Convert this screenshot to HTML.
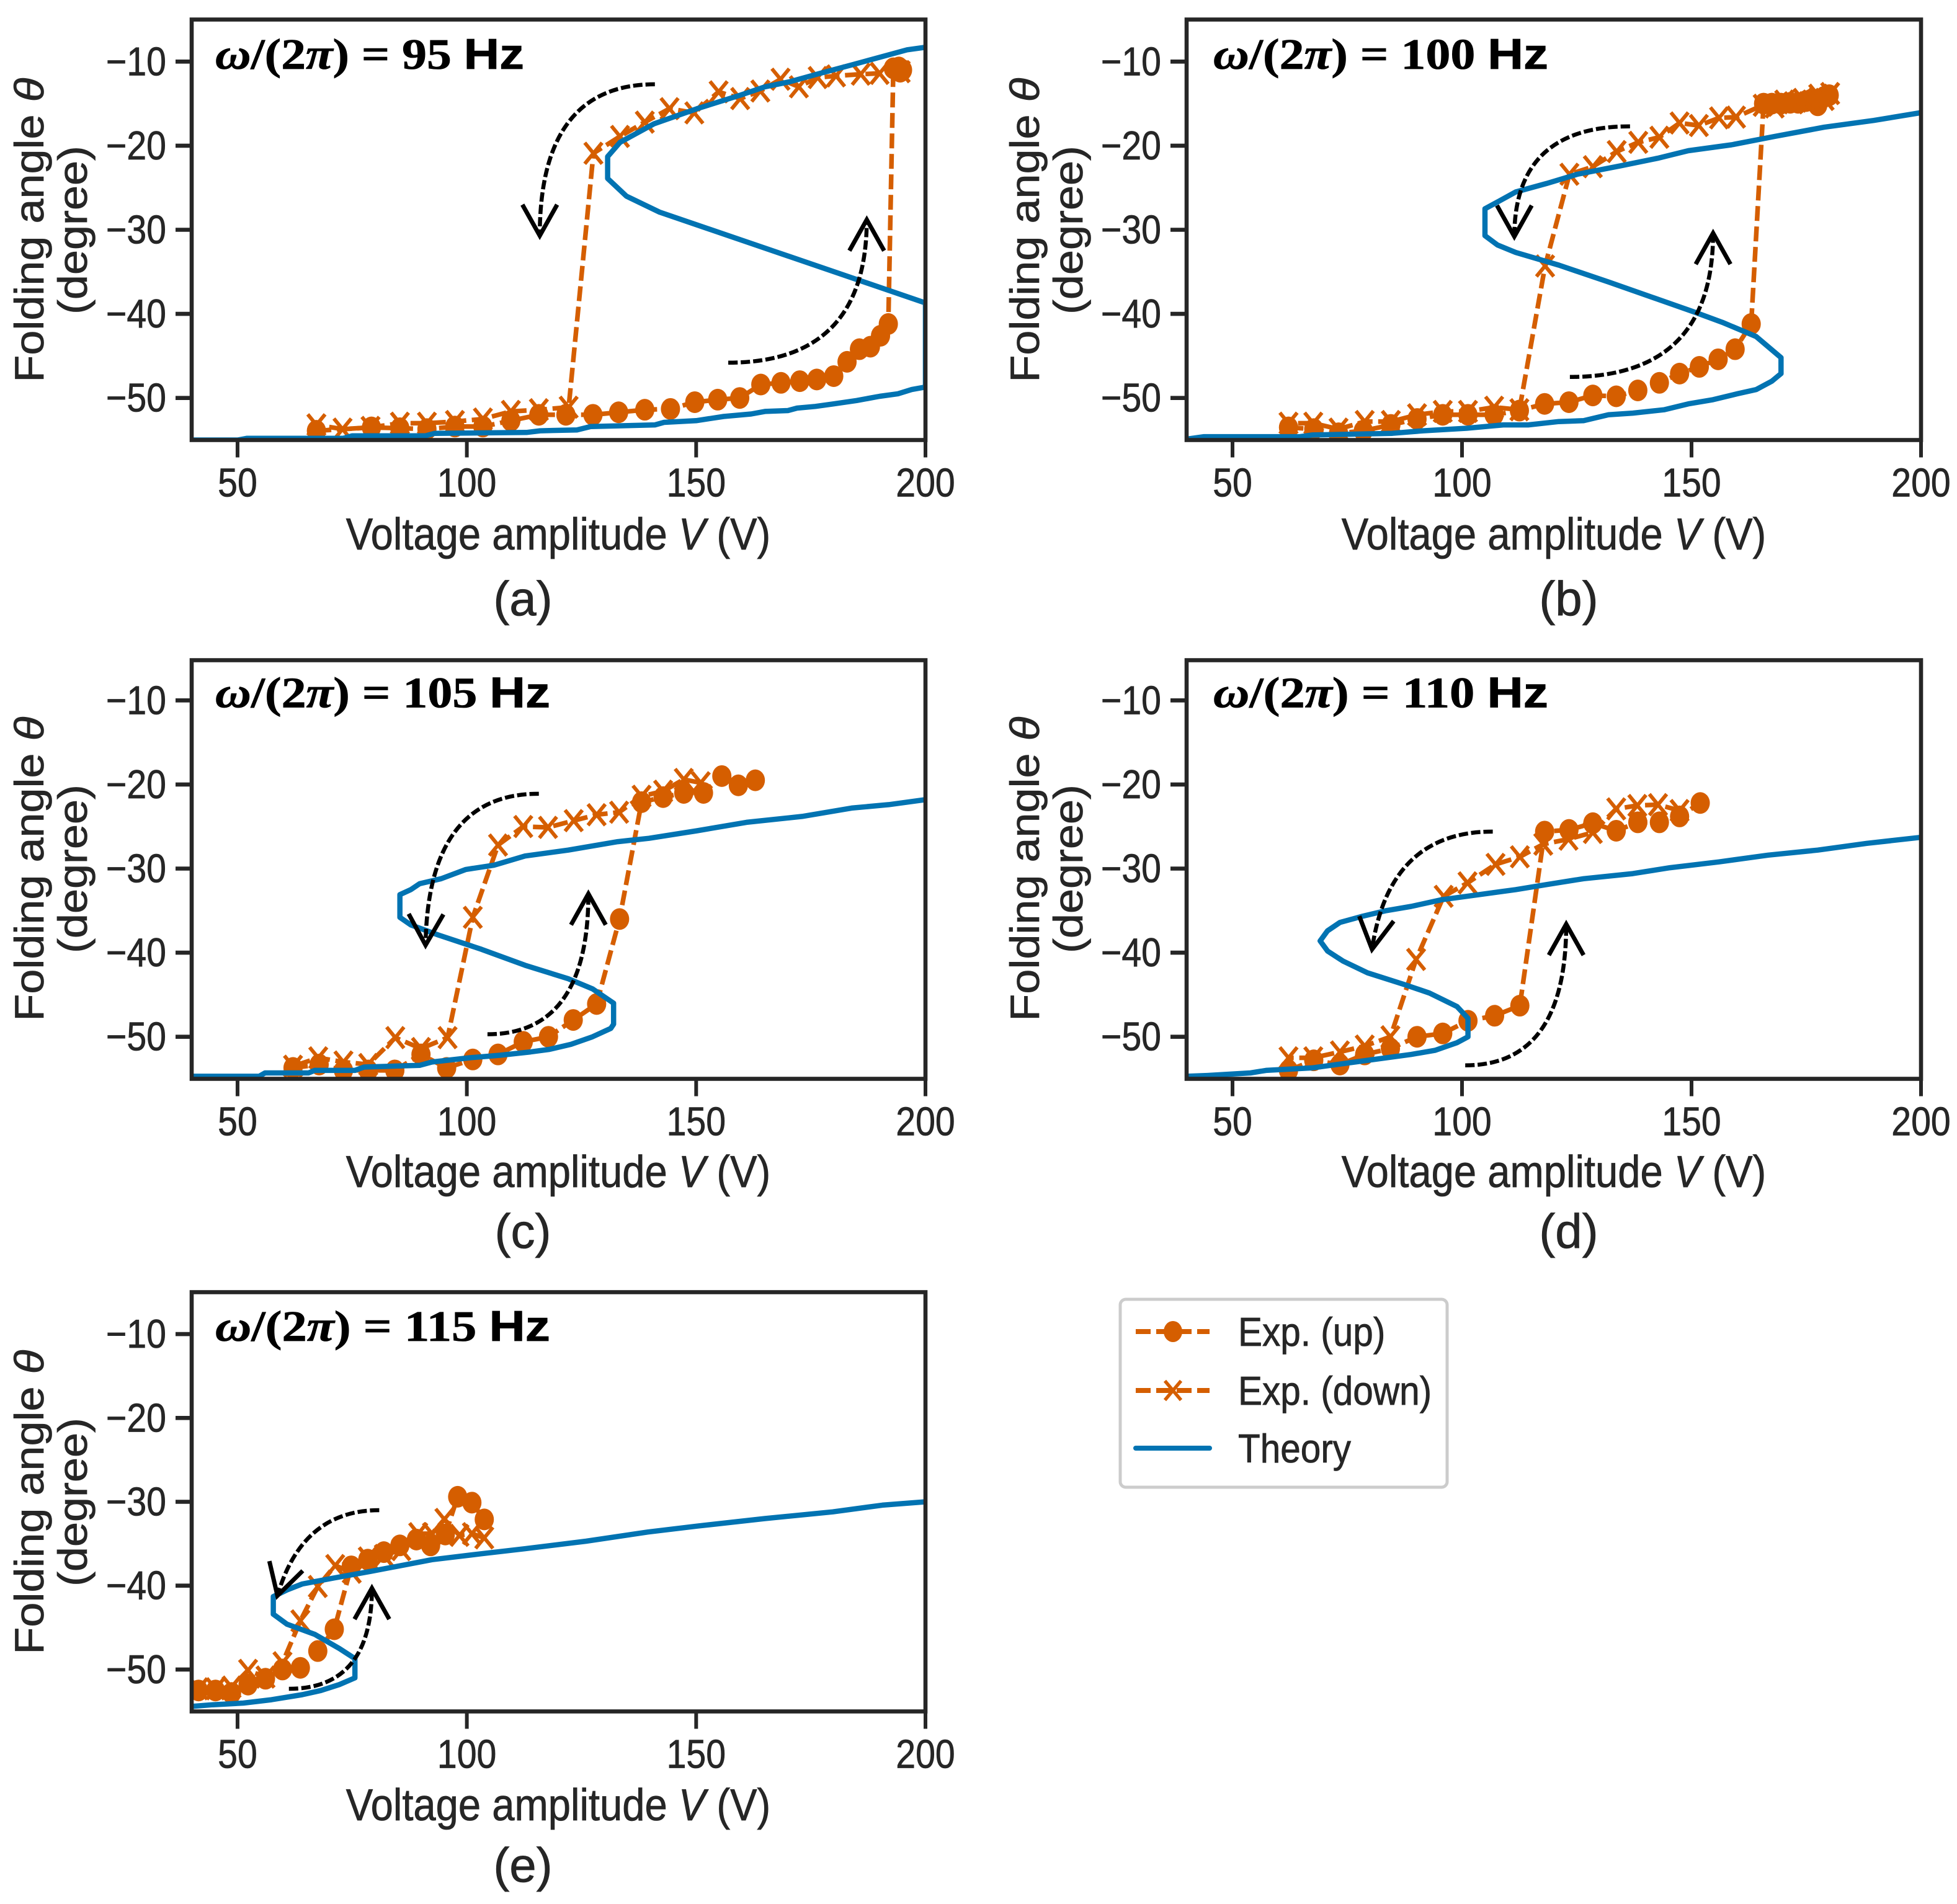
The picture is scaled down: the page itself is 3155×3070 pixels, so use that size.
<!DOCTYPE html>
<html lang="en">
<head>
<meta charset="utf-8">
<title>Folding angle vs voltage amplitude</title>
<style>
html,body{margin:0;padding:0;background:#fff;width:3155px;height:3070px;overflow:hidden}
svg{display:block}
text{font-family:"Liberation Sans",Arial,sans-serif;fill:#262626;stroke:#262626;stroke-width:.8px}
.tick-label{font-size:65px}
.axis-title{font-size:72px}
.caption{font-size:78px}
.legend-text{font-size:65px}
.title{font-size:70px;font-weight:bold;font-family:"Liberation Serif",serif;fill:#000;stroke:#000}
.title .sans{font-family:"Liberation Sans",sans-serif}
.title .it{font-style:italic}
</style>
</head>
<body>
<svg id="figure" xmlns="http://www.w3.org/2000/svg" width="3155" height="3070" viewBox="0 0 3155 3070">
<rect x="0" y="0" width="3155" height="3070" fill="#fff"/>

<g id="panel-a">
  <text class="title" x="347" y="111" textLength="498" lengthAdjust="spacingAndGlyphs"><tspan class="it">ω</tspan>/(2<tspan class="it">π</tspan>) = 95 <tspan class="sans">Hz</tspan></text>
  <text class="axis-title" text-anchor="middle" transform="translate(900,886) scale(.905,1)">Voltage amplitude <tspan font-style="italic">V</tspan> (V)</text>
  <text class="axis-title" text-anchor="middle" transform="translate(70,371) scale(.92,1) rotate(-90)">Folding angle <tspan font-style="italic">θ</tspan></text>
  <text class="axis-title" text-anchor="middle" transform="translate(140,371) scale(.92,1) rotate(-90)">(degree)</text>
  <text class="caption" text-anchor="middle" x="843" y="992">(a)</text>
</g>

<g id="panel-b">
  <text class="title" x="1956" y="111" textLength="540" lengthAdjust="spacingAndGlyphs"><tspan class="it">ω</tspan>/(2<tspan class="it">π</tspan>) = 100 <tspan class="sans">Hz</tspan></text>
  <text class="axis-title" text-anchor="middle" transform="translate(2505,886) scale(.905,1)">Voltage amplitude <tspan font-style="italic">V</tspan> (V)</text>
  <text class="axis-title" text-anchor="middle" transform="translate(1675,371) scale(.92,1) rotate(-90)">Folding angle <tspan font-style="italic">θ</tspan></text>
  <text class="axis-title" text-anchor="middle" transform="translate(1745,371) scale(.92,1) rotate(-90)">(degree)</text>
  <text class="caption" text-anchor="middle" x="2529" y="992">(b)</text>
</g>

<g id="panel-c">
  <text class="title" x="347" y="1140.500" textLength="540" lengthAdjust="spacingAndGlyphs"><tspan class="it">ω</tspan>/(2<tspan class="it">π</tspan>) = 105 <tspan class="sans">Hz</tspan></text>
  <text class="axis-title" text-anchor="middle" transform="translate(900,1914) scale(.905,1)">Voltage amplitude <tspan font-style="italic">V</tspan> (V)</text>
  <text class="axis-title" text-anchor="middle" transform="translate(70,1401) scale(.92,1) rotate(-90)">Folding angle <tspan font-style="italic">θ</tspan></text>
  <text class="axis-title" text-anchor="middle" transform="translate(140,1401) scale(.92,1) rotate(-90)">(degree)</text>
  <text class="caption" text-anchor="middle" x="843" y="2012">(c)</text>
</g>

<g id="panel-d">
  <text class="title" x="1956" y="1140.500" textLength="540" lengthAdjust="spacingAndGlyphs"><tspan class="it">ω</tspan>/(2<tspan class="it">π</tspan>) = 110 <tspan class="sans">Hz</tspan></text>
  <text class="axis-title" text-anchor="middle" transform="translate(2505,1914) scale(.905,1)">Voltage amplitude <tspan font-style="italic">V</tspan> (V)</text>
  <text class="axis-title" text-anchor="middle" transform="translate(1675,1401) scale(.92,1) rotate(-90)">Folding angle <tspan font-style="italic">θ</tspan></text>
  <text class="axis-title" text-anchor="middle" transform="translate(1745,1401) scale(.92,1) rotate(-90)">(degree)</text>
  <text class="caption" text-anchor="middle" x="2529" y="2012">(d)</text>
</g>

<g id="panel-e">
  <text class="title" x="347" y="2162" textLength="540" lengthAdjust="spacingAndGlyphs"><tspan class="it">ω</tspan>/(2<tspan class="it">π</tspan>) = 115 <tspan class="sans">Hz</tspan></text>
  <text class="axis-title" text-anchor="middle" transform="translate(900,2935) scale(.905,1)">Voltage amplitude <tspan font-style="italic">V</tspan> (V)</text>
  <text class="axis-title" text-anchor="middle" transform="translate(70,2422) scale(.92,1) rotate(-90)">Folding angle <tspan font-style="italic">θ</tspan></text>
  <text class="axis-title" text-anchor="middle" transform="translate(140,2422) scale(.92,1) rotate(-90)">(degree)</text>
  <text class="caption" text-anchor="middle" x="843" y="3034">(e)</text>
</g>

<g id="legend">
  <rect x="1806" y="2095" width="527" height="303" rx="9" ry="9" fill="#fff" stroke="#cccccc" stroke-width="5"/>
  <g>
    <line x1="1831" y1="2147" x2="1950" y2="2147" stroke="#d55e00" stroke-width="8" stroke-dasharray="24 9"/>
    <ellipse cx="1891" cy="2147" rx="15" ry="17" fill="#d55e00"/>
    <text class="legend-text" transform="translate(1996,2170) scale(.9,1)">Exp. (up)</text>
  </g>
  <g>
    <line x1="1831" y1="2242" x2="1950" y2="2242" stroke="#d55e00" stroke-width="8" stroke-dasharray="24 9"/>
    <path d="M1878 2226.500L1904 2257.500M1904 2226.500L1878 2257.500" stroke="#d55e00" stroke-width="5.500" fill="none"/>
    <text class="legend-text" transform="translate(1996,2265) scale(.9,1)">Exp. (down)</text>
  </g>
  <g>
    <line x1="1831" y1="2335" x2="1950" y2="2335" stroke="#0173b2" stroke-width="8" stroke-linecap="round"/>
    <text class="legend-text" transform="translate(1996,2358) scale(.9,1)">Theory</text>
  </g>
</g>
</svg>

<script>
// Axis tick values and labels
const xTicks = [50, 100, 150, 200];
const xTickLabels = ['50', '100', '150', '200'];
const yTicks = [-10, -20, -30, -40, -50];
const yTickLabels = ['\u221210', '\u221220', '\u221230', '\u221240', '\u221250'];
const xLimits = [40, 200];
const yLimits = [-55, -5];

// Panel (a) 95 Hz
const upVoltageA = [67.2,79.2,85.4,91.3,97.4,103.5,109.6,115.7,121.6,127.5,133.1,138.8,144.4,149.7,154.7,159.5,164.1,168.5,172.6,176.3,180,182.9,185.6,188,190.2,191.9,193,194,194.5,194.2,195];
const upAngleA = [-53.9,-53.5,-53.6,-53.7,-53.4,-53.4,-52.7,-52,-52,-52,-51.7,-51.4,-51.3,-50.5,-50.2,-50,-48.4,-48.2,-48,-47.8,-47.4,-45.7,-44.2,-43.9,-42.6,-41.2,-10.8,-11,-11.2,-10.7,-11];
const downVoltageA = [194.6,190,185.9,180.5,176.5,172.4,168.4,164,159.6,154.9,149.6,144.2,138.8,133.4,127.6,122.2,115.7,109.6,103.5,97.4,91.3,85.4,79,72.9,67.2];
const downAngleA = [-11.2,-11.4,-11.5,-11.7,-11.9,-13,-12.1,-13.5,-14.4,-13.6,-16.1,-15.6,-17.2,-18.9,-20.9,-51.1,-51.4,-51.6,-52.5,-52.8,-53,-53,-53.5,-53.7,-53.2];
const theoryVoltageA = [40,50,52,73,75,91,93,113,116,124,127,141,143,150,156,162,165,170,172,176,180,185,190,194,197,200,200,142,134.8,130.7,130.7,133.4,140.8,150.2,159.6,165,170.4,177,183.9,190.6,196,200];
const theoryAngleA = [-55,-55,-54.8,-54.8,-54.5,-54.5,-54.2,-54.1,-53.9,-53.8,-53.4,-53.2,-52.9,-52.7,-52.2,-51.9,-51.6,-51.5,-51.2,-51,-50.7,-50.3,-49.8,-49.5,-49,-48.7,-38.7,-27.9,-26,-23.9,-21.3,-19.6,-17.4,-15.6,-14,-13,-12.4,-11.4,-10.4,-9.4,-8.6,-8.3];
const arrowDownA = [141,-12.7,115.9,-12.7,115.9,-30.7];
const arrowUpA = [157,-45.8,187.2,-45.8,187.2,-28.8];

// Panel (b) 100 Hz
const upVoltageB = [62.2,67.7,73.1,78.5,84.5,90.2,95.8,101.3,107,112.5,118,123.3,128.5,133.6,138.3,143,147.4,151.7,155.8,159.5,163,165.7,167.5,169.5,171.5,173.2,174.9,176.2,177.5,178.9,180];
const upAngleB = [-53.5,-53.7,-54.2,-53.9,-53.2,-52.5,-52,-52,-52,-51.5,-50.7,-50.5,-49.7,-49.8,-49.1,-48.2,-47.1,-46.3,-45.4,-44.2,-41.2,-15,-15,-15,-14.9,-14.9,-14.7,-14.5,-15.2,-14.2,-14];
const downVoltageB = [180.2,179,177.6,176.2,174.2,172.2,170.2,168.1,165.5,159.7,156,151.6,147.4,143,138.4,133.7,128.5,123.4,118.1,112.5,107,101.3,95.8,90.2,84.5,78.8,73.1,67.6,62.2];
const downAngleB = [-13.8,-14.5,-14,-14.7,-14.5,-14.9,-14.7,-15.4,-15.2,-16.6,-16.7,-17.6,-17.3,-19,-19.6,-20.7,-22.5,-23.4,-34.3,-51.4,-51.1,-51.6,-51.6,-52,-52.8,-52.8,-53.7,-53,-53];
const theoryVoltageB = [40,43.8,64.7,67.3,84.8,91.5,101,109,114.4,121.1,126.5,131.9,137.2,144,149.3,154.7,160,164.1,167.5,169.5,169.5,164.1,156.7,150.7,141.3,131.9,121.1,111.7,107.7,105,105,107.7,111.7,118.4,125.1,134.5,142.6,149.3,158.7,168.1,178.9,189.7,199.7];
const theoryAngleB = [-54.9,-54.6,-54.6,-54.4,-54.2,-53.9,-53.6,-53.2,-53.2,-52.8,-52.7,-52,-51.8,-51.4,-50.7,-50.2,-49.5,-49,-48,-47.1,-45.2,-42.7,-41,-39.8,-38,-36.2,-34.2,-32.7,-31.8,-30.7,-27.5,-26.7,-25.5,-24.5,-23.4,-22.4,-21.5,-20.6,-19.9,-18.9,-17.8,-17,-16.1];
const arrowDownB = [136.6,-17.7,111.4,-17.7,111.4,-30.8];
const arrowUpB = [123.5,-47.5,154.7,-47.5,154.7,-30.4];

// Panel (c) 105 Hz
const upVoltageC = [62.1,67.8,73.1,78.5,84.3,90,95.6,101.3,106.8,112.3,117.8,123.2,128.3,133.3,138.1,142.8,147.3,151.6,155.6,159.2,162.9];
const upAngleC = [-53.7,-53.3,-54,-54,-54,-52.1,-53.7,-52.7,-52.1,-50.6,-50,-48,-46.1,-36,-22.1,-21.5,-21,-21,-19,-20.1,-19.5];
const downVoltageC = [151,147.3,142.8,138.1,133.2,128.3,123.3,117.7,112.3,106.8,101.3,95.8,90,84.4,78.5,73.1,67.6,62.1];
const downAngleC = [-19.8,-19.4,-20.8,-21.4,-23.3,-23.6,-24.3,-25.1,-25,-27.2,-35.8,-50.1,-51.4,-50.1,-53.3,-53,-52.5,-53.5];
const theoryVoltageC = [40,54.7,56,65.5,66.8,75.6,77.6,89.7,92.4,100.5,107.2,113.9,118,122.7,127.4,131.4,132,132,127.4,122.1,112.7,103.2,93.8,87.8,85.4,85.4,87.8,89.7,94.4,99.8,105.9,112.7,122.1,132.9,139.7,150.2,161,173.1,183.9,192,200];
const theoryAngleC = [-54.7,-54.7,-54.3,-54.3,-54,-54,-53.6,-53.4,-53,-52.5,-52.2,-51.8,-51.5,-50.9,-50,-49,-48.5,-46,-44.3,-43.1,-41.5,-39.6,-37.9,-36.7,-35.8,-33.1,-32.5,-31.8,-31.2,-30.1,-29.6,-28.5,-27.8,-26.8,-26.4,-25.5,-24.5,-23.8,-22.8,-22.4,-21.8];
const arrowDownC = [115.7,-21.1,91.5,-21.1,91,-39.1];
const arrowUpC = [104.5,-49.7,126.5,-49.7,126.5,-33];

// Panel (d) 110 Hz
const upVoltageD = [62.2,67.7,73.4,78.8,84.4,90.2,95.8,101.3,107.1,112.6,118,123.3,128.5,133.6,138.3,143,147.4,151.9];
const upAngleD = [-54,-52.8,-53.3,-52.1,-51.4,-50,-49.6,-48.1,-47.5,-46.3,-25.6,-25.4,-24.6,-25.5,-24.5,-24.5,-23.8,-22.2];
const downVoltageD = [147.4,142.7,138.2,133.6,128.5,123.2,117.7,112.6,107.3,101.2,96,90,84.4,78.8,73.4,67.6,62.2];
const downAngleD = [-23.1,-22.4,-22.5,-22.9,-25.7,-26.5,-27.1,-28.6,-29.5,-31.7,-33.3,-40.8,-50,-51.1,-51.8,-52.5,-52.5];
const theoryVoltageD = [40,44.5,53.9,57.3,67.3,78.1,88.9,94.2,98.9,101.3,101.3,98.9,92.9,87.5,79.4,74.1,70.7,69.1,70.7,73.4,78.1,83.5,88.9,95.6,102.3,111.7,118.4,126.5,137.2,145.3,156,166.7,177.5,188.2,199.7];
const theoryAngleD = [-54.7,-54.6,-54.3,-54,-53.7,-52.9,-52.1,-51.6,-50.7,-50,-47.8,-46.4,-44.8,-43.8,-42.4,-41,-39.8,-38.6,-37.4,-36.4,-35.7,-35,-34.5,-33.7,-33.2,-32.5,-31.9,-31.2,-30.6,-29.9,-29.2,-28.4,-27.8,-27,-26.3];
const arrowDownD = [106.7,-25.6,84.1,-25.6,80.4,-39.6];
const arrowUpD = [100.7,-53.4,122.7,-53.4,122.7,-36.6];

// Panel (e) 115 Hz
const upVoltageE = [41.5,45.2,48.7,52.3,56.1,59.8,63.7,67.5,71.1,74.8,78.4,81.9,85.4,89,92.1,95.3,98,101.1,103.8];
const upAngleE = [-52.5,-52.5,-52.8,-51.8,-51.1,-50,-49.8,-47.8,-45.2,-37.7,-36.9,-36,-35.2,-34.5,-35.2,-33.9,-29.4,-30.1,-32.1];
const downVoltageE = [103.8,101.1,98.4,95.1,92.4,89.4,85.7,81.9,78.4,74.9,71.3,67.5,63.7,59.8,56.1,52.3,48.7,45.2,41.5];
const downAngleE = [-34.3,-33.8,-34,-32.1,-33.8,-33.8,-35.7,-36.4,-36.7,-38.4,-37.6,-40.1,-44.2,-49.2,-50.9,-50.1,-52.1,-52.3,-52.3];
const theoryVoltageE = [40,44.6,51.3,57.4,64.1,68.2,72.2,75.6,75.6,72.2,66.8,60.8,57.8,57.8,60.8,64.1,70.9,79,92.4,103.1,112.6,126,139.5,150.2,165,179.8,190.6,200];
const theoryAngleE = [-54.4,-54.2,-54,-53.6,-53,-52.5,-51.8,-51,-48.7,-47.5,-45.8,-44.6,-43.4,-41.3,-40.5,-39.8,-39.1,-38.3,-36.9,-36.2,-35.6,-34.7,-33.6,-32.9,-32,-31.2,-30.4,-30];
const arrowDownE = [80.9,-31,64.1,-31,58.7,-41.2];
const arrowUpE = [61.2,-52.3,79.3,-52.3,79.3,-40.3];

const SVG_NS = 'http://www.w3.org/2000/svg';
const ORANGE = '#d55e00';
const BLUE = '#0173b2';
const INK = '#262626';

function mk(tag, attrs, parent) {
  const el = document.createElementNS(SVG_NS, tag);
  for (const k in attrs) el.setAttribute(k, attrs[k]);
  parent.appendChild(el);
  return el;
}

function drawPanel(id, box, series) {
  const host = document.getElementById('panel-' + id);
  const frameTop = box.frameTop || box.top;
  const xScale = v => box.left + (v - xLimits[0]) / (xLimits[1] - xLimits[0]) * (box.right - box.left);
  const yScale = t => box.bottom - (t - yLimits[0]) / (yLimits[1] - yLimits[0]) * (box.bottom - box.top);
  const polyPoints = (xs, ys) => xs.map((v, i) => xScale(v).toFixed(1) + ',' + yScale(ys[i]).toFixed(1)).join(' ');

  const defs = mk('defs', {}, host);
  const clip = mk('clipPath', { id: 'clip-' + id }, defs);
  mk('rect', { x: box.left, y: frameTop, width: box.right - box.left, height: box.bottom - frameTop }, clip);

  const plot = mk('g', { 'clip-path': 'url(#clip-' + id + ')' }, host);
  
  

  // experimental sweep up
  const upLine = mk('polyline', { points: polyPoints(series.upV, series.upT), fill: 'none', stroke: ORANGE, 'stroke-width': 7.5, 'stroke-dasharray': '24 9' }, plot);
  
  
  series.upV.forEach((v, i) => {
    const dot = mk('ellipse', { cx: xScale(v), cy: yScale(series.upT[i]), rx: 15.5, ry: 17.5, fill: ORANGE }, plot);
    
    
  });

  // experimental sweep down
  const downLine = mk('polyline', { points: polyPoints(series.downV, series.downT), fill: 'none', stroke: ORANGE, 'stroke-width': 7.5, 'stroke-dasharray': '24 9' }, plot);
  
  
  series.downV.forEach((v, i) => {
    const cx = xScale(v), cy = yScale(series.downT[i]);
    const d = 'M' + (cx - 14) + ' ' + (cy - 17) + 'L' + (cx + 14) + ' ' + (cy + 17) + 'M' + (cx + 14) + ' ' + (cy - 17) + 'L' + (cx - 14) + ' ' + (cy + 17);
    const cross = mk('path', { d: d, fill: 'none', stroke: ORANGE, 'stroke-width': 6 }, plot);
    
    
  });

  // theory curve
  const theory = mk('polyline', { points: polyPoints(series.theoryV, series.theoryT), fill: 'none', stroke: BLUE, 'stroke-width': 8.5, 'stroke-linejoin': 'round' }, plot);
  
  

  // hysteresis direction arrows
  [series.arrowDown, series.arrowUp].forEach(a => {
    const sx = xScale(a[0]), sy = yScale(a[1]), cx = xScale(a[2]), cy = yScale(a[3]), ex = xScale(a[4]), ey = yScale(a[5]);
    const curve = mk('path', { d: 'M' + sx + ' ' + sy + 'Q' + cx + ' ' + cy + ' ' + ex + ' ' + ey, fill: 'none', stroke: '#000', 'stroke-width': 6.5, 'stroke-dasharray': '15 5' }, host);
    
    
    const len = Math.hypot(ex - cx, ey - cy);
    const ux = (ex - cx) / len, uy = (ey - cy) / len;
    const w1x = ex - ux * 50 - uy * 28, w1y = ey - uy * 50 + ux * 28;
    const w2x = ex - ux * 50 + uy * 28, w2y = ey - uy * 50 - ux * 28;
    const head = mk('path', { d: 'M' + w1x + ' ' + w1y + 'L' + ex + ' ' + ey + 'L' + w2x + ' ' + w2y, fill: 'none', stroke: '#000', 'stroke-width': 7 }, host);
    
    
  });

  // spines
  const frame = mk('rect', { x: box.left, y: frameTop, width: box.right - box.left, height: box.bottom - frameTop, fill: 'none', stroke: INK, 'stroke-width': 6.6 }, host);
  
  

  // x ticks
  xTicks.forEach((v, i) => {
    const x = xScale(v);
    const tick = mk('line', { x1: x, x2: x, y1: box.bottom, y2: box.bottom + 28, stroke: INK, 'stroke-width': 6 }, host);
    
    
    const label = mk('text', { class: 'tick-label', 'text-anchor': 'middle', transform: 'translate(' + x + ',' + (box.bottom + 91) + ') scale(.88,1)' }, host);
    
    
    label.textContent = xTickLabels[i];
  });

  // y ticks
  yTicks.forEach((t, i) => {
    const y = yScale(t);
    const tick = mk('line', { x1: box.left, x2: box.left - 26, y1: y, y2: y, stroke: INK, 'stroke-width': 6.6 }, host);
    
    
    const label = mk('text', { class: 'tick-label', 'text-anchor': 'end', transform: 'translate(' + (box.left - 41) + ',' + (y + 22) + ') scale(.88,1)' }, host);
    
    
    label.textContent = yTickLabels[i];
  });
}

drawPanel('a', { left: 309, right: 1492, top: 31.5, bottom: 709.5 }, { upV: upVoltageA, upT: upAngleA, downV: downVoltageA, downT: downAngleA, theoryV: theoryVoltageA, theoryT: theoryAngleA, arrowDown: arrowDownA, arrowUp: arrowUpA });
drawPanel('b', { left: 1913, right: 3097, top: 31.5, bottom: 709.5 }, { upV: upVoltageB, upT: upAngleB, downV: downVoltageB, downT: downAngleB, theoryV: theoryVoltageB, theoryT: theoryAngleB, arrowDown: arrowDownB, arrowUp: arrowUpB });
drawPanel('c', { left: 309, right: 1492, top: 1061.5, frameTop: 1064.5, bottom: 1739.5 }, { upV: upVoltageC, upT: upAngleC, downV: downVoltageC, downT: downAngleC, theoryV: theoryVoltageC, theoryT: theoryAngleC, arrowDown: arrowDownC, arrowUp: arrowUpC });
drawPanel('d', { left: 1913, right: 3097, top: 1061.5, frameTop: 1064.5, bottom: 1739.5 }, { upV: upVoltageD, upT: upAngleD, downV: downVoltageD, downT: downAngleD, theoryV: theoryVoltageD, theoryT: theoryAngleD, arrowDown: arrowDownD, arrowUp: arrowUpD });
drawPanel('e', { left: 309, right: 1492, top: 2083.5, bottom: 2759.5 }, { upV: upVoltageE, upT: upAngleE, downV: downVoltageE, downT: downAngleE, theoryV: theoryVoltageE, theoryT: theoryAngleE, arrowDown: arrowDownE, arrowUp: arrowUpE });
</script>
</body>
</html>
